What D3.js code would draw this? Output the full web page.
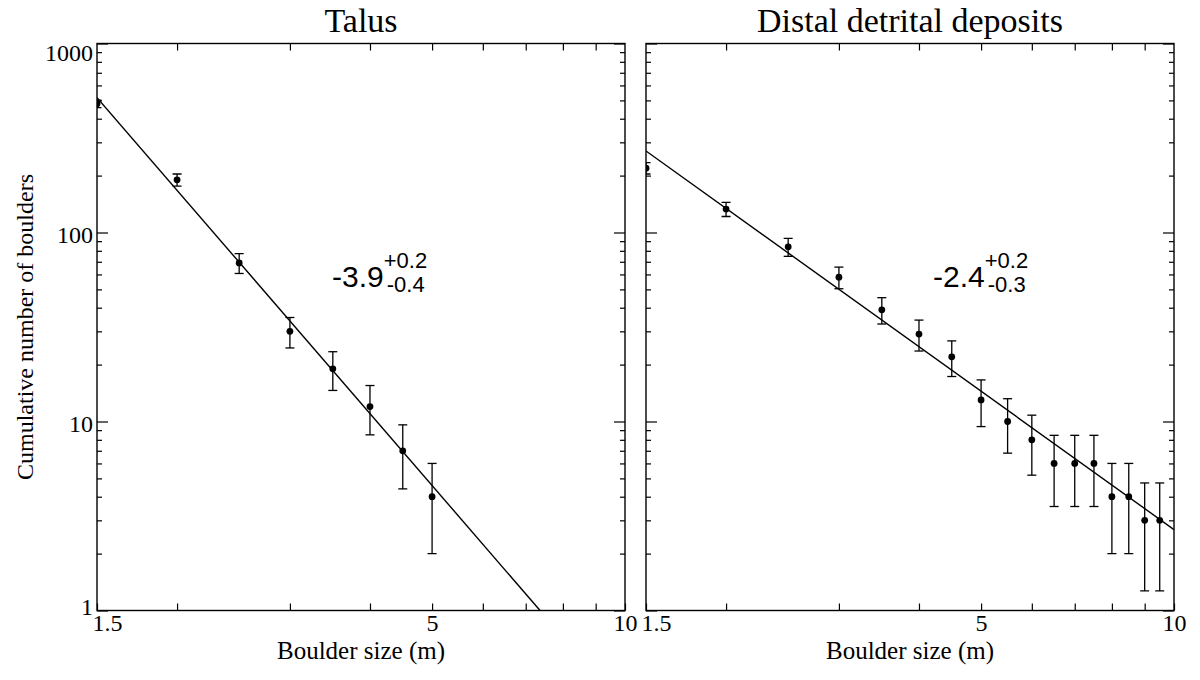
<!DOCTYPE html>
<html>
<head>
<meta charset="utf-8">
<script src="https://cdn.jsdelivr.net/npm/d3@7"></script>
<style>
  body { margin: 0; background: #fff; }
  svg { display: block; }
</style>
</head>
<body>
<script>
// Talus panel
const talusSize = [1.5, 2, 2.5, 3, 3.5, 4, 4.5, 5];
const talusCount = [480, 190, 69, 30, 19, 12, 7, 4];
const talusErr = [22, 14, 8.3, 5.5, 4.4, 3.5, 2.6, 2];
const talusFit = [{x: 1.5, y: 517}, {x: 7.37, y: 1}];

// Distal detrital deposits panel
const distalSize = [1.5, 2, 2.5, 3, 3.5, 4, 4.5, 5, 5.5, 6, 6.5, 7, 7.5, 8, 8.5, 9, 9.5];
const distalCount = [219, 133, 84, 58, 39, 29, 22, 13, 10, 8, 6, 6, 6, 4, 4, 3, 3];
const distalErr = [15, 11.5, 9.2, 7.6, 6.2, 5.4, 4.7, 3.6, 3.2, 2.8, 2.45, 2.45, 2.45, 2, 2, 1.73, 1.73];
const distalFit = [{x: 1.5, y: 270}, {x: 10, y: 2.68}];

const xTicks = [1.5, 2, 3, 4, 5, 6, 7, 8, 9, 10];
const xLabels = [1.5, 5, 10];
const yMajor = [1, 10, 100, 1000];
const yMinor = [2,3,4,5,6,7,8,9,20,30,40,50,60,70,80,90,200,300,400,500,600,700,800,900];

const svg = d3.select("body").append("svg")
    .attr("width", 1200)
    .attr("height", 680);

const yTop = 43.5, yBottom = 610.5;
const serif = "'Liberation Serif', 'Times New Roman', serif";
const sans = "'Liberation Sans', Arial, sans-serif";

const panels = [
  {id: "talus", left: 97, right: 625, title: "Talus", size: talusSize, count: talusCount, err: talusErr,
   fit: talusFit, slope: "-3.9", up: "+0.2", down: "-0.4", ax: 332, yLabels: true},
  {id: "distal", left: 646, right: 1174, title: "Distal detrital deposits", size: distalSize, count: distalCount,
   err: distalErr, fit: distalFit, slope: "-2.4", up: "+0.2", down: "-0.3", ax: 933, yLabels: false}
];

panels.forEach(p => {
  const width = p.right - p.left, height = yBottom - yTop;
  const g = svg.append("g").attr("transform", `translate(${p.left},${yTop})`);

  const x = d3.scaleLog().domain([1.5, 10]).range([0, width]);
  const y = d3.scaleLog().domain([1, 1000]).range([height, 0]);

  g.append("clipPath").attr("id", "clip-" + p.id)
    .append("rect").attr("width", width).attr("height", height);

  const fmt = d => xLabels.includes(d) ? String(d) : "";

  // bottom axis
  const xb = g.append("g")
      .attr("transform", `translate(0,${height})`)
      .call(d3.axisBottom(x).tickValues(xTicks).tickSize(-7).tickPadding(3).tickFormat(fmt));
  xb.selectAll("text").filter(d => d === 1.5).attr("dx", 10);

  // top axis
  g.append("g").call(d3.axisTop(x).tickValues(xTicks.slice(1, -1)).tickSize(-7).tickFormat(""));

  // left axis
  const yl = g.append("g").call(d3.axisLeft(y).tickValues(yMajor).tickSize(-11).tickPadding(4)
      .tickFormat(p.yLabels ? d3.format("d") : ""));
  yl.selectAll("text").attr("dy", d => d === 1000 ? "0.72em" : d === 1 ? "0.15em" : "0.4em");
  g.append("g").call(d3.axisLeft(y).tickValues(yMinor).tickSize(-5).tickFormat(""));

  // right axis
  g.append("g").attr("transform", `translate(${width},0)`)
    .call(d3.axisRight(y).tickValues(yMajor).tickSize(-11).tickFormat(""));
  g.append("g").attr("transform", `translate(${width},0)`)
    .call(d3.axisRight(y).tickValues(yMinor).tickSize(-5).tickFormat(""));

  g.selectAll(".domain").remove();
  g.selectAll(".tick line").attr("stroke", "#000").attr("stroke-width", 1.2);
  g.selectAll(".tick text").attr("font-family", serif).attr("font-size", 24).attr("fill", "#000");

  // frame
  g.append("rect").attr("width", width).attr("height", height)
    .attr("fill", "none").attr("stroke", "#000").attr("stroke-width", 1.4);

  const data = p.size.map((s, i) => ({x: s, y: p.count[i], e: p.err[i]}));
  const plot = g.append("g").attr("clip-path", `url(#clip-${p.id})`);

  // fit line
  plot.append("path")
    .datum(p.fit)
    .attr("fill", "none")
    .attr("stroke", "#000")
    .attr("stroke-width", 1.4)
    .attr("d", d3.line().x(d => x(d.x)).y(d => y(d.y)));

  // error bars
  const eb = plot.selectAll(".eb").data(data).enter().append("g")
      .attr("stroke", "#000").attr("stroke-width", 1.3);
  eb.append("line")
    .attr("x1", d => x(d.x)).attr("x2", d => x(d.x))
    .attr("y1", d => y(d.y + d.e)).attr("y2", d => y(d.y - d.e));
  eb.append("line")
    .attr("x1", d => x(d.x) - 4.5).attr("x2", d => x(d.x) + 4.5)
    .attr("y1", d => y(d.y + d.e)).attr("y2", d => y(d.y + d.e));
  eb.append("line")
    .attr("x1", d => x(d.x) - 4.5).attr("x2", d => x(d.x) + 4.5)
    .attr("y1", d => y(d.y - d.e)).attr("y2", d => y(d.y - d.e));

  // points
  plot.selectAll("circle").data(data).enter().append("circle")
    .attr("cx", d => x(d.x)).attr("cy", d => y(d.y)).attr("r", 3.4).attr("fill", "#000");

  // slope annotation
  const ann = svg.append("text").attr("x", p.ax).attr("y", 287)
      .attr("font-family", sans).attr("fill", "#000");
  ann.append("tspan").attr("font-size", 30).text(p.slope);
  const slopeEnd = ann.node().getComputedTextLength();
  svg.append("text").attr("x", p.ax + slopeEnd).attr("y", 268)
    .attr("font-family", sans).attr("font-size", 22).text(p.up);
  svg.append("text").attr("x", p.ax + slopeEnd + 3).attr("y", 292)
    .attr("font-family", sans).attr("font-size", 22).text(p.down);

  // title and x label
  svg.append("text").attr("x", p.left + width / 2).attr("y", 32)
    .attr("text-anchor", "middle").attr("font-family", serif).attr("font-size", 34).text(p.title);
  svg.append("text").attr("x", p.left + width / 2).attr("y", 659)
    .attr("text-anchor", "middle").attr("font-family", serif).attr("font-size", 25).text("Boulder size (m)");
});

svg.append("text")
  .attr("transform", `translate(33,${(yTop + yBottom) / 2}) rotate(-90)`)
  .attr("text-anchor", "middle")
  .attr("font-family", serif)
  .attr("font-size", 24)
  .text("Cumulative number of boulders");
</script>
</body>
</html>
